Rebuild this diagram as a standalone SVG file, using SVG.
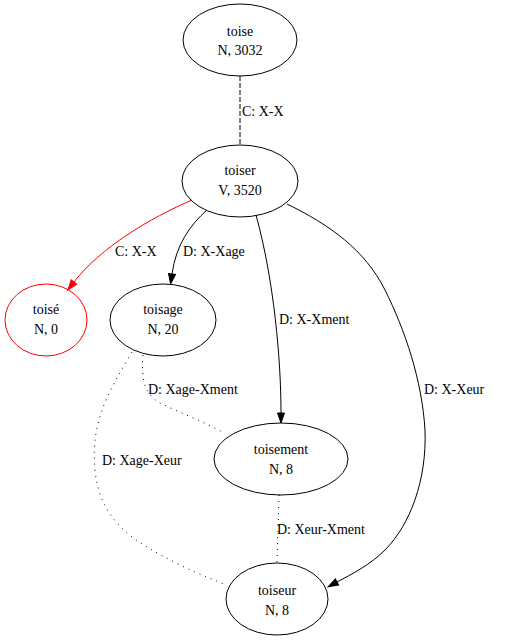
<svg xmlns="http://www.w3.org/2000/svg" width="506" height="641" viewBox="0 0 506 641">
<style>
text{font-family:'Liberation Serif','Times New Roman','DejaVu Serif',Times,serif;font-size:14px;fill:#000}
.n text{text-anchor:middle}
.n ellipse{fill:none;stroke:#000;stroke-width:1}
.e path{fill:none;stroke:#000;stroke-width:1}
.dash{stroke-dasharray:5,2}
.dot{stroke-dasharray:1,5}
</style>
<defs>
<marker id="ab" markerUnits="userSpaceOnUse" markerWidth="11" markerHeight="8" refX="0" refY="3.5" orient="auto" overflow="visible"><path d="M0,0 L10,3.5 L0,7 Z" fill="#000" stroke="#000"/></marker>
<marker id="ar" markerUnits="userSpaceOnUse" markerWidth="11" markerHeight="8" refX="0" refY="3.5" orient="auto" overflow="visible"><path d="M0,0 L10,3.5 L0,7 Z" fill="red" stroke="red"/></marker>
</defs>
<rect width="506" height="641" fill="#fff"/>
<g font-family="Liberation Serif, serif">
<g id="edges" class="e">
<path class="dash" d="M240,76 L240,145"/>
<text x="242" y="116">C: X-X</text>
<path d="M192,200 C150,218 100,248 74,282" style="stroke:red" marker-end="url(#ar)"/>
<text x="115" y="256">C: X-X</text>
<path d="M207,210 C190,225 176,245 172,274" marker-end="url(#ab)"/>
<text x="183" y="256">D: X-Xage</text>
<path d="M256,215 C274,280 281,360 281,413" marker-end="url(#ab)"/>
<text x="279" y="324">D: X-Xment</text>
<path d="M287,204 C330,225 365,250 385,290 C405,330 422,380 425,430 C427,480 410,525 385,550 C370,565 352,574 337,582" marker-end="url(#ab)"/>
<text x="424" y="394">D: X-Xeur</text>
<path class="dot" d="M143,355 C141,380 145,395 160,403 C180,413 205,422 224,433"/>
<text x="148" y="394">D: Xage-Xment</text>
<path class="dot" d="M132,352 C110,390 90,420 95,470 C100,520 130,540 180,565 C200,575 215,580 226,585"/>
<text x="102" y="465">D: Xage-Xeur</text>
<path class="dot" d="M279,495 L277,563"/>
<text x="277" y="534">D: Xeur-Xment</text>
</g>
<g id="toise" class="n"><ellipse cx="240" cy="40" rx="57" ry="36"/><text x="240" y="36">toise</text><text x="240" y="55">N, 3032</text></g>
<g id="toiser" class="n"><ellipse cx="240" cy="181" rx="58" ry="36"/><text x="240" y="175">toiser</text><text x="240" y="195">V, 3520</text></g>
<g id="toise_acc" class="n"><ellipse cx="46" cy="320" rx="41" ry="36" style="stroke:red"/><text x="46" y="314">toisé</text><text x="46" y="334">N, 0</text></g>
<g id="toisage" class="n"><ellipse cx="163" cy="320" rx="53" ry="36"/><text x="163" y="314">toisage</text><text x="163" y="334">N, 20</text></g>
<g id="toisement" class="n"><ellipse cx="281" cy="459" rx="67" ry="36"/><text x="281" y="454">toisement</text><text x="281" y="474">N, 8</text></g>
<g id="toiseur" class="n"><ellipse cx="277" cy="599" rx="51" ry="36"/><text x="277" y="595">toiseur</text><text x="277" y="615">N, 8</text></g>
</g>
</svg>
